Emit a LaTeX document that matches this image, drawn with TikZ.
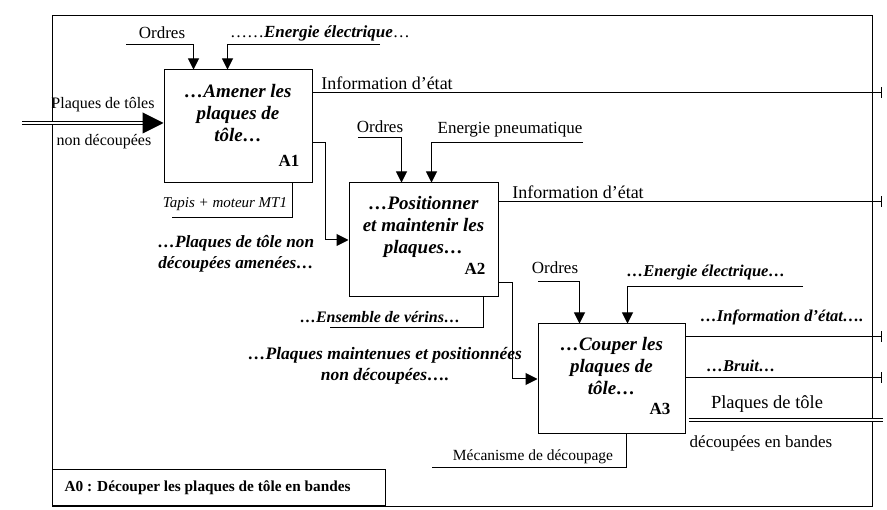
\documentclass[tikz,border=0pt]{standalone}
\usepackage{fontspec}
\setmainfont{Liberation Serif}
\usetikzlibrary{positioning, arrows.meta}

\begin{document}
\begin{tikzpicture}[x=1pt, y=-1pt, line width=1pt]

  \tikzstyle{activity}=[draw, inner sep=0pt]
  \tikzstyle{acttext}=[align=center, inner sep=0pt, font=\fontsize{19}{22}\selectfont\bfseries\itshape]
  \tikzstyle{actnum}=[inner sep=0pt, font=\fontsize{17}{20}\selectfont\bfseries]
  \tikzstyle{lbl}=[inner sep=0pt, font=\fontsize{17}{20}\selectfont]
  \tikzstyle{biglbl}=[inner sep=0pt, font=\fontsize{18}{21}\selectfont]
  \tikzstyle{smalllbl}=[inner sep=0pt, font=\fontsize{16}{19}\selectfont]
  \tikzstyle{bilbl}=[inner sep=0pt, align=center, font=\fontsize{16.5}{21}\selectfont\bfseries\itshape]
  \tikzstyle{ctrl}=[-{Triangle[width=11pt, length=11pt]}]
  \tikzstyle{flow}=[-{Triangle[width=12pt, length=12pt]}]
  \tikzstyle{exit}=[-{Bar[width=11pt]}]
  \tikzstyle{matter}=[double, double distance=2pt]

  \fill [white] (0,0) rectangle (887,510);
  \useasboundingbox (0,0) rectangle (887,510);

  % frame and title
  \node [draw, inner sep=0pt, anchor=north west, minimum width=820pt, minimum height=491pt] (frame) at (52,15) {};
  \node [draw, inner sep=0pt, anchor=south west, minimum width=333pt, minimum height=36pt] (A0) at (52,506) {};
  \node [inner sep=0pt, anchor=west, font=\fontsize{15.3}{18}\selectfont\bfseries] (A0-t) at ([xshift=12pt]A0.west) {A0 : Découper les plaques de tôle en bandes};

  % activities
  \node [activity, minimum width=148pt, minimum height=113pt] (A1) at (238,126.5) {};
  \node [acttext] (A1-t) at (238,113) {…Amener les\\plaques de\\tôle…};
  \node [actnum] (A1-n) at (289,161) {A1};

  \node [activity, minimum width=149pt, minimum height=114pt] (A2) at (423.5,240) {};
  \node [acttext] (A2-t) at (423.5,227) {…Positionner\\et maintenir les\\plaques…};
  \node [actnum] (A2-n) at (475,269) {A2};

  \node [activity, minimum width=147pt, minimum height=110pt] (A3) at (611.5,379) {};
  \node [acttext] (A3-t) at (611.5,366) {…Couper les\\plaques de\\tôle…};
  \node [actnum] (A3-n) at (660,409) {A3};

  % A1
  \coordinate (A1-c1) at (126,45);
  \coordinate (A1-c2) at (380,45);
  \coordinate (A1-in) at (22,123);
  \coordinate (A1-i) at (882,93);
  \coordinate (A1-m) at (172,218);
  \draw [ctrl] (A1-c1) -| ([xshift=30pt]A1.north west);
  \draw [ctrl] (A1-c2) -| ([xshift=64pt]A1.north west);
  \draw [matter, shorten >=19pt] (A1-in) -- (A1-in -| A1.west);
  \draw [-{Triangle[width=21pt, length=21pt]}] ([xshift=-21pt]A1-in -| A1.west) -- (A1-in -| A1.west);
  \draw [exit] (A1-i -| A1.east) -- (A1-i);
  \draw [flow] ([yshift=-16.5pt]A1.east) -- ++(13,0) |- (A2.west);
  \draw ([xshift=-20pt]A1.south east) |- (A1-m);

  \node [lbl] (A1-l1) at (162,33) {Ordres};
  \node [lbl] (A1-l2) at (320,33) {……\textbf{\textit{Energie électrique}}…};
  \node [biglbl] (A1-l3) at (387,83) {Information d’état};
  \node [smalllbl] (A1-l4) at (103,105) {Plaques de tôles};
  \node [smalllbl] (A1-l5) at (104,142) {non découpées};
  \node [inner sep=0pt, font=\fontsize{15}{18}\selectfont\itshape] (A1-l6) at (225,204) {Tapis + moteur MT1};
  \node [bilbl, font=\fontsize{17.2}{21}\selectfont\bfseries\itshape] (A1-l7) at (236,254) {…Plaques de tôle non\\découpées amenées…};

  % A2
  \coordinate (A2-c1) at (358,138);
  \coordinate (A2-c2) at (583,143);
  \coordinate (A2-i) at (882,202);
  \coordinate (A2-m) at (330,328);
  \draw [ctrl] (A2-c1) -| ([xshift=53pt]A2.north west);
  \draw [ctrl] (A2-c2) -| ([xshift=83pt]A2.north west);
  \draw [exit] (A2-i -| A2.east) -- (A2-i);
  \draw [flow] ([yshift=-43pt]A2.east) -- ++(14,0) |- (A3.west);
  \draw ([xshift=-15pt]A2.south east) |- (A2-m);

  \node [lbl] (A2-l1) at (380,127) {Ordres};
  \node [lbl] (A2-l2) at (510,130) {Energie pneumatique};
  \node [biglbl] (A2-l3) at (578,192) {Information d’état};
  \node [bilbl, font=\fontsize{16}{19}\selectfont\bfseries\itshape] (A2-l4) at (380,317) {…Ensemble de vérins…};
  \node [bilbl, font=\fontsize{17.5}{21}\selectfont\bfseries\itshape] (A2-l5) at (385,366) {…Plaques maintenues et positionnées\\non découpées….};

  % A3
  \coordinate (A3-c1) at (538,282);
  \coordinate (A3-c2) at (803,287);
  \coordinate (A3-i) at (882,337);
  \coordinate (A3-b) at (882,378);
  \coordinate (A3-out) at (883,420);
  \coordinate (A3-m) at (432,468);
  \draw [ctrl] (A3-c1) -| ([xshift=42pt]A3.north west);
  \draw [ctrl] (A3-c2) -| ([xshift=90pt]A3.north west);
  \draw [exit] (A3-i -| A3.east) -- (A3-i);
  \draw [exit] (A3-b -| A3.east) -- (A3-b);
  \draw [matter] ([xshift=3pt]A3-out -| A3.east) -- (A3-out);
  \draw ([xshift=89pt]A3.south west) |- (A3-m);

  \node [lbl] (A3-l1) at (555,268) {Ordres};
  \node [bilbl] (A3-l2) at (706,273) {…Energie électrique…};
  \node [bilbl] (A3-l3) at (782,317) {…Information d’état….};
  \node [bilbl] (A3-l4) at (741,366) {…Bruit…};
  \node [inner sep=0pt, font=\fontsize{18.5}{22}\selectfont] (A3-l5) at (767,404) {Plaques de tôle};
  \node [lbl] (A3-l6) at (761,443) {découpées en bandes};
  \node [inner sep=0pt, font=\fontsize{15.5}{18}\selectfont] (A3-l7) at (533,457) {Mécanisme de découpage};

\end{tikzpicture}
\end{document}
